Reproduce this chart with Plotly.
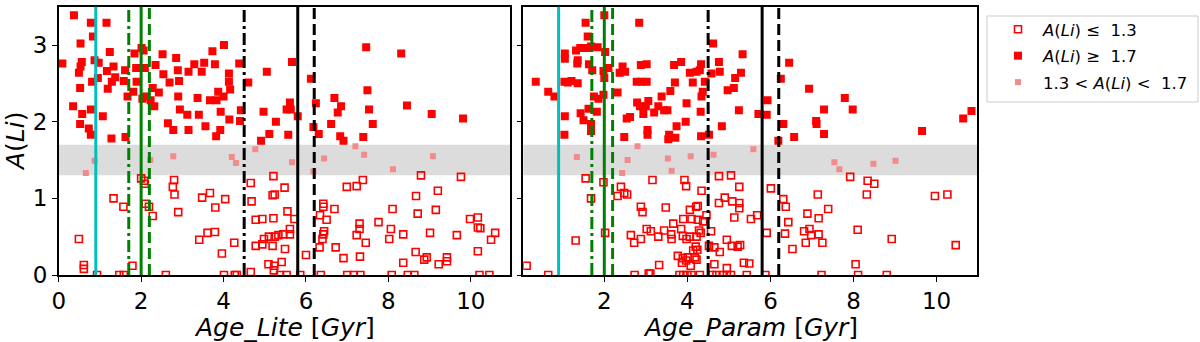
import plotly.graph_objects as go

# ---- data ----
LI_LOW, LI_HIGH = 1.3, 1.7
AGE_LINES = [0.9, 1.7, 2.0, 2.2, 4.5, 5.8, 6.2]
LINE_STYLES = [("#00bfbf", "solid"), ("#008000", "12px,4px,3px,4px"), ("#008000", "solid"),
               ("#008000", "11px,5px"), ("black", "12px,4px,3px,4px"), ("black", "solid"),
               ("black", "11px,5px")]

lite_hi = [
    (0.37, 3.39), (0.78, 3.29), (1.16, 3.29), (0.83, 3.11), (0.53, 3.02), (0.09, 2.76), (0.56, 2.78),
    (0.53, 2.72), (0.49, 2.64), (0.87, 2.80), (0.97, 2.77), (1.24, 2.91), (1.17, 2.66), (1.33, 2.72),
    (1.37, 2.58), (1.29, 2.52), (0.95, 2.57), (0.81, 2.52), (0.52, 2.44), (1.19, 2.43), (0.35, 2.20),
    (0.57, 2.10), (0.78, 2.16), (0.52, 1.97), (0.73, 1.91), (0.78, 1.83), (1.07, 2.07), (1.28, 1.78),
    (1.62, 1.80), (1.61, 2.67), (1.58, 2.53), (1.67, 2.33), (1.84, 2.89), (2.01, 2.96), (2.06, 2.93),
    (1.88, 2.70), (2.09, 2.70), (1.81, 2.39), (1.89, 2.52), (2.03, 2.30), (2.12, 2.33), (2.28, 2.44),
    (2.43, 2.38), (2.32, 2.20), (2.23, 2.28), (2.35, 2.74), (2.52, 2.88), (2.54, 2.62), (2.69, 2.51),
    (2.85, 2.83), (2.89, 2.67), (2.92, 2.53), (2.90, 2.33), (2.94, 2.16), (2.65, 1.98), (2.78, 1.89),
    (3.12, 2.09), (3.15, 1.89), (3.15, 2.65), (3.29, 2.75), (3.40, 2.09), (3.37, 2.31), (3.47, 2.65),
    (3.53, 2.77), (3.56, 1.94), (3.73, 2.92), (3.79, 2.75), (3.67, 2.28), (3.83, 2.28), (3.87, 2.39),
    (4.00, 2.33), (3.93, 2.13), (3.82, 1.81), (3.92, 1.89), (4.01, 3.00), (4.13, 2.63), (4.13, 2.52),
    (4.16, 2.42), (4.14, 2.03), (4.38, 2.76), (4.42, 2.15), (4.40, 2.01), (4.60, 2.51), (5.05, 2.65),
    (5.66, 2.78), (6.12, 2.56), (7.46, 2.97), (8.31, 2.89), (7.49, 2.41), (6.69, 2.31), (6.85, 2.20),
    (6.77, 2.12), (6.24, 2.24), (5.61, 2.25), (5.53, 2.16), (5.63, 2.16), (4.97, 2.13), (5.80, 2.07),
    (5.27, 2.00), (7.53, 2.16), (8.45, 2.21), (9.05, 2.10), (9.81, 2.04), (6.18, 1.93), (6.61, 1.97),
    (6.31, 1.84), (7.62, 1.97), (5.11, 1.84), (4.91, 1.75), (5.57, 1.83), (6.83, 1.81), (6.91, 1.75),
    (7.39, 1.80),
]
lite_mid = [
    (0.87, 1.49), (0.66, 1.33), (2.78, 1.55), (2.22, 1.50), (4.20, 1.54), (4.30, 1.46), (4.77, 1.64),
    (5.66, 1.47), (6.44, 1.52), (7.20, 1.68), (7.41, 1.57), (9.08, 1.55), (8.11, 1.38), (6.18, 1.35),
]
lite_lo = [
    (2.00, 1.26), (2.07, 1.23), (2.09, 1.19), (1.33, 1.00), (1.57, 0.89), (2.11, 0.93), (2.19, 0.89),
    (2.28, 0.77), (2.80, 1.24), (2.77, 1.15), (2.81, 1.05), (2.90, 0.82), (3.48, 1.01), (3.67, 1.07),
    (3.80, 0.88), (4.04, 0.99), (3.41, 0.46), (3.61, 0.55), (3.79, 0.56), (4.26, 0.42), (3.96, 0.28),
    (0.49, 0.47), (0.61, 0.13), (0.61, 0.08), (1.79, 0.12), (0.93, 0.0), (1.47, 0.0), (1.58, 0.0),
    (2.60, 0.0), (4.01, 0.0), (4.27, 0.0), (4.32, 0.0), (4.66, 0.04), (4.66, 1.20), (4.68, 0.96),
    (4.78, 0.72), (4.78, 0.38), (5.21, 1.29), (5.48, 1.14), (5.19, 1.04), (5.24, 1.05), (5.55, 0.83),
    (4.94, 0.73), (5.21, 0.74), (5.72, 0.73), (5.61, 0.60), (4.94, 0.40), (4.98, 0.47), (5.10, 0.50),
    (5.19, 0.38), (5.24, 0.50), (5.33, 0.52), (5.45, 0.53), (5.61, 0.53), (5.49, 0.34), (5.09, 0.14),
    (5.23, 0.12), (5.41, 0.17), (5.22, 0.06), (5.37, 0.0), (5.53, 0.0), (5.86, 0.0), (6.00, 0.26),
    (6.36, 0.0), (6.42, 0.93), (6.42, 0.89), (6.69, 0.86), (6.34, 0.78), (6.50, 0.72), (6.44, 0.57),
    (6.42, 0.53), (6.40, 0.47), (6.33, 0.36), (6.72, 0.36), (6.91, 0.22), (6.99, 1.15), (7.23, 1.16),
    (7.38, 1.24), (7.30, 0.67), (7.30, 0.60), (7.23, 0.52), (7.45, 0.42), (7.31, 0.24), (7.00, 0.0),
    (7.16, 0.0), (7.32, 0.0), (7.76, 0.69), (8.10, 0.86), (8.06, 0.60), (8.02, 0.47), (8.36, 0.53),
    (8.36, 0.16), (8.08, 0.0), (8.47, 0.0), (8.63, 0.0), (8.79, 1.30), (8.67, 1.03), (8.71, 0.80),
    (8.66, 0.30), (8.87, 0.20), (8.93, 0.23), (9.01, 0.55), (9.20, 1.10), (9.15, 0.85), (9.22, 0.14),
    (9.42, 0.23), (9.42, 0.18), (9.66, 0.52), (9.76, 1.28), (9.98, 0.73), (10.17, 0.75), (10.17, 0.62),
    (10.23, 0.61), (10.49, 0.46), (10.59, 0.55), (10.17, 0.31), (10.21, 0.0), (10.45, 0.0),
]

param_hi = [
    (2.00, 3.39), (1.55, 3.29), (2.84, 3.29), (1.60, 3.11), (1.42, 2.96), (1.32, 2.93), (1.58, 2.96),
    (1.68, 2.98), (1.84, 2.97), (2.02, 2.91), (1.05, 2.89), (1.05, 2.82), (1.36, 2.80), (1.35, 2.76),
    (1.63, 2.75), (1.71, 2.67), (1.98, 2.66), (2.10, 2.70), (2.00, 2.57), (2.44, 2.72), (2.50, 2.65),
    (2.37, 2.64), (2.88, 2.74), (3.02, 2.75), (3.68, 2.74), (3.85, 2.78), (4.06, 2.64), (4.22, 2.65),
    (4.33, 2.75), (4.30, 2.67), (4.62, 3.02), (4.76, 2.78), (4.78, 2.65), (4.58, 2.63), (5.33, 2.88),
    (5.29, 2.64), (5.15, 2.57), (0.35, 2.52), (0.65, 2.39), (0.80, 2.33), (1.04, 2.52), (1.12, 2.51),
    (1.21, 2.53), (1.36, 2.50), (2.78, 2.52), (2.89, 2.52), (3.02, 2.52), (3.70, 2.51), (4.13, 2.51),
    (4.42, 2.52), (4.97, 2.41), (5.12, 2.44), (3.59, 2.40), (4.37, 2.39), (3.38, 2.33), (4.34, 2.33),
    (1.75, 2.33), (1.86, 2.30), (1.98, 2.35), (2.32, 2.38), (2.79, 2.25), (2.86, 2.20), (3.06, 2.27),
    (3.00, 2.20), (2.94, 2.10), (3.20, 2.12), (3.30, 2.20), (3.44, 2.15), (3.52, 2.15), (3.98, 2.24),
    (4.32, 2.13), (5.24, 2.15), (1.82, 2.13), (1.62, 2.17), (1.43, 2.11), (1.50, 2.02), (1.05, 2.07),
    (1.68, 1.97), (1.68, 1.88), (1.04, 1.83), (2.54, 2.04), (2.62, 2.06), (3.04, 1.89), (3.04, 1.83),
    (2.48, 1.80), (3.74, 1.94), (3.96, 2.00), (3.56, 1.83), (3.54, 1.77), (3.71, 1.79), (4.33, 1.81),
    (4.52, 1.83), (4.83, 1.94), (6.45, 2.77), (6.25, 2.56), (6.93, 2.43), (7.79, 2.31), (5.93, 2.28),
    (5.71, 2.10), (5.91, 2.09), (7.29, 2.16), (7.98, 2.16), (7.10, 2.01), (7.11, 1.97), (6.31, 1.97),
    (6.57, 1.80), (7.29, 1.84), (6.19, 1.75), (9.65, 1.88), (10.64, 2.04), (10.84, 2.14),
]
param_mid = [
    (2.80, 1.68), (1.34, 1.54), (2.56, 1.50), (3.53, 1.52), (4.08, 1.55), (4.63, 1.57), (2.43, 1.33),
    (3.62, 1.36), (5.59, 1.64), (7.54, 1.47), (7.66, 1.38), (8.48, 1.45), (9.01, 1.49),
]
param_lo = [
    (1.55, 1.26), (1.98, 1.21), (1.68, 1.00), (2.40, 1.15), (2.32, 1.03), (2.48, 1.07), (2.55, 1.05),
    (3.16, 1.24), (3.93, 1.24), (3.97, 1.16), (4.34, 1.10), (4.76, 1.29), (5.05, 1.30), (5.25, 1.15),
    (4.76, 0.94), (4.90, 1.01), (5.08, 0.96), (5.25, 0.94), (5.25, 0.87), (5.13, 0.75), (5.53, 0.73),
    (2.88, 0.89), (2.92, 0.82), (3.48, 0.88), (4.06, 0.85), (4.21, 0.89), (4.25, 0.90), (4.46, 0.78),
    (3.66, 0.67), (3.90, 0.73), (4.10, 0.73), (4.25, 0.72), (4.38, 0.70), (3.02, 0.60), (3.12, 0.57),
    (3.30, 0.50), (3.44, 0.58), (3.61, 0.53), (3.62, 0.47), (3.85, 0.60), (3.89, 0.51), (3.98, 0.47),
    (4.06, 0.50), (4.22, 0.50), (4.28, 0.58), (4.32, 0.55), (4.57, 0.57), (4.52, 0.38), (4.65, 0.36),
    (4.78, 0.30), (4.95, 0.46), (5.07, 0.38), (5.21, 0.37), (5.27, 0.39), (2.64, 0.52), (2.72, 0.42),
    (2.88, 0.47), (2.02, 0.55), (1.31, 0.45), (4.20, 0.37), (4.24, 0.33), (4.14, 0.32), (3.77, 0.25),
    (3.89, 0.22), (4.01, 0.23), (3.87, 0.16), (3.97, 0.19), (4.18, 0.23), (4.22, 0.20), (4.08, 0.12),
    (4.65, 0.14), (4.95, 0.09), (5.36, 0.16), (3.32, 0.13), (0.13, 0.12), (0.65, 0.0), (2.73, 0.0),
    (3.07, 0.02), (3.11, 0.02), (3.81, 0.0), (3.90, 0.0), (4.00, 0.0), (4.10, 0.0), (4.30, 0.0),
    (4.60, 0.0), (4.70, 0.0), (4.85, 0.0), (4.95, 0.0), (5.05, 0.0), (6.01, 1.13), (7.14, 1.05),
    (7.92, 1.28), (8.34, 1.23), (8.50, 1.19), (8.32, 1.05), (9.96, 1.03), (10.26, 1.05), (6.31, 0.99),
    (6.37, 0.89), (7.39, 0.86), (6.89, 0.80), (7.16, 0.74), (5.68, 0.78), (6.43, 0.69), (5.91, 0.55),
    (6.35, 0.54), (6.81, 0.57), (6.94, 0.60), (6.98, 0.52), (7.16, 0.53), (6.85, 0.42), (7.25, 0.42),
    (8.10, 0.59), (8.92, 0.47), (6.53, 0.34), (10.46, 0.39), (8.05, 0.14), (5.49, 0.15), (5.43, 0.0),
    (5.88, 0.0), (7.23, 0.0), (8.11, 0.0), (8.80, 0.0),
]

LEGEND_NAMES = [
    "<i>A</i>(<i>Li</i>) \u2264  1.3",
    "<i>A</i>(<i>Li</i>) \u2265  1.7",
    "1.3 < <i>A</i>(<i>Li</i>) <  1.7",
]

FONT = "DejaVu Sans"
W, H = 1200, 342

marker_lo = dict(symbol="square-open", size=7, color="red", line=dict(width=1.6, color="red"))
marker_hi = dict(symbol="square", size=8, color="red", line=dict(width=0))
marker_mid = dict(symbol="square", size=6, color="#f28b8b", line=dict(width=0))

fig = go.Figure()
panels = [("x", "y", lite_lo, lite_hi, lite_mid), ("x2", "y2", param_lo, param_hi, param_mid)]
for i, (xa, ya, lo, hi, mid) in enumerate(panels):
    for pts, mk, name in [(lo, marker_lo, LEGEND_NAMES[0]), (hi, marker_hi, LEGEND_NAMES[1]),
                          (mid, marker_mid, LEGEND_NAMES[2])]:
        fig.add_trace(go.Scatter(
            x=[p[0] for p in pts], y=[p[1] for p in pts], mode="markers", marker=mk,
            name=name, legendgroup=name, showlegend=(i == 0), xaxis=xa, yaxis=ya,
        ))

shapes = []
for xa, ya in [("x", "y"), ("x2", "y2")]:
    shapes.append(dict(type="rect", xref=f"{xa} domain", yref=ya, x0=0, x1=1, y0=LI_LOW, y1=LI_HIGH,
                       fillcolor="#dcdcdc", line=dict(width=0), layer="below"))
    for age, (col, dash) in zip(AGE_LINES, LINE_STYLES):
        shapes.append(dict(type="line", xref=xa, yref=f"{ya} domain", x0=age, x1=age, y0=0, y1=1,
                           line=dict(color=col, width=3, dash=dash), layer="above"))
# legend frame
shapes.append(dict(type="rect", xref="paper", yref="paper", x0=987 / W, x1=1198 / W,
                   y0=1 - 102 / H, y1=1 - 16 / H, line=dict(color="#cccccc", width=1),
                   fillcolor="rgba(0,0,0,0)", layer="above"))

axis_common = dict(showline=True, linecolor="black", linewidth=1.5, mirror=True, ticks="outside",
                   ticklen=5, tickwidth=1.3, tickcolor="black", showgrid=False, zeroline=False,
                   automargin=False, tickfont=dict(family=FONT, size=23, color="black"))
ydom = [(H - 275) / H, (H - 6.7) / H]

fig.update_layout(
    width=W, height=H, margin=dict(l=0, r=0, t=0, b=0, pad=0, autoexpand=False),
    paper_bgcolor="white", plot_bgcolor="white",
    font=dict(family=FONT, color="black"),
    shapes=shapes,
    xaxis=dict(axis_common, domain=[58.7 / W, 510 / W], range=[0, 10.95], tickvals=[0, 2, 4, 6, 8, 10],
               anchor="y"),
    yaxis=dict(axis_common, domain=ydom, range=[0, 3.5], tickvals=[0, 1, 2, 3], anchor="x"),
    xaxis2=dict(axis_common, domain=[523.3 / W, 977.3 / W], range=[0.05, 10.98],
                tickvals=[2, 4, 6, 8, 10], anchor="y2"),
    yaxis2=dict(axis_common, domain=ydom, range=[0, 3.5], tickvals=[0, 1, 2, 3], showticklabels=False,
                anchor="x2"),
    legend=dict(x=993 / W, y=1 - 12 / H, xanchor="left", yanchor="top", borderwidth=0,
                bgcolor="rgba(0,0,0,0)", font=dict(family=FONT, size=16.5, color="black"),
                tracegroupgap=2, itemwidth=40),
    annotations=[
        dict(text="<i>Age_Lite</i> [<i>Gyr</i>]", x=(58.7 + 510) / 2 / W, y=(H - 327) / H,
             xref="paper", yref="paper", xanchor="center", yanchor="middle", showarrow=False,
             font=dict(size=25)),
        dict(text="<i>Age_Param</i> [<i>Gyr</i>]", x=(523.3 + 977.3) / 2 / W, y=(H - 327) / H,
             xref="paper", yref="paper", xanchor="center", yanchor="middle", showarrow=False,
             font=dict(size=25)),
        dict(text="<i>A</i>(<i>Li</i>)", x=16 / W, y=(H - 141) / H, xref="paper", yref="paper",
             xanchor="center", yanchor="middle", showarrow=False, textangle=-90, font=dict(size=25)),
    ],
)

fig.write_html("out.html", config={"displayModeBar": False},
               post_script="document.body.style.margin='0px';")
